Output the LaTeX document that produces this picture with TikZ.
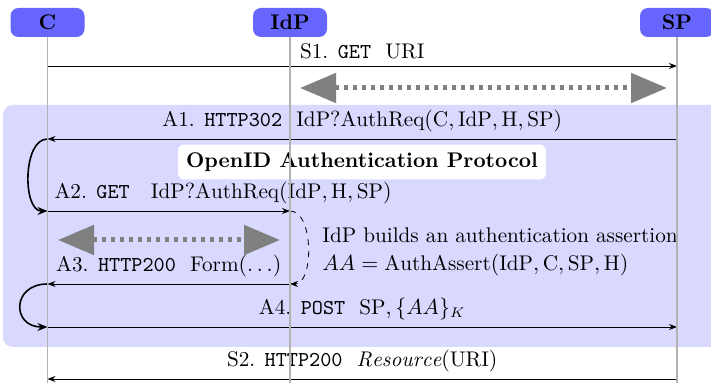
\documentclass[tikz,border=0pt]{standalone}
\usepackage{fontspec}
\usetikzlibrary{arrows.meta}
\newcommand\myfs{\fontsize{10.6pt}{12.8pt}\selectfont}
\begin{document}
\begin{tikzpicture}[x=0.5pt,y=-0.5pt,
  every node/.style={font=\myfs},
  actor/.style={fill=blue!60, rounded corners=4pt, minimum width=37pt, minimum height=14.5pt, inner sep=0pt, font=\myfs\bfseries},
  msg/.style={-{Stealth[length=4pt,width=3pt]}, line width=0.4pt},
  looparrow/.style={-{Stealth[length=5pt,width=4pt]}, line width=0.8pt},
  bigarrow/.style={{Triangle[length=18pt,width=14.5pt]}-{Triangle[length=18pt,width=14.5pt]}, gray, line width=2.5pt, dash pattern=on 2.2pt off 2.3pt},
  lifeline/.style={gray!60, line width=0.6pt},
  titlebox/.style={fill=white, rounded corners=3pt, inner sep=4pt, font=\myfs\bfseries}
]
\clip (0,0) rectangle (711,383);
% background of the authentication protocol
\fill[blue!15, rounded corners=5pt] (3,105) rectangle (730,347);

% coordinates on lifelines
\coordinate (s1a) at (47.5,66);  \coordinate (s1b) at (677,66);
\coordinate (g1a) at (300,88);   \coordinate (g1b) at (667,88);
\coordinate (a1a) at (677,139);  \coordinate (a1b) at (47.5,139);
\coordinate (a2a) at (47.5,211); \coordinate (a2b) at (290,211);
\coordinate (g2a) at (58,240);   \coordinate (g2b) at (280,240);
\coordinate (a3a) at (290,284);  \coordinate (a3b) at (47.5,284);
\coordinate (a4a) at (47.5,327); \coordinate (a4b) at (677,327);
\coordinate (s2a) at (677,379);  \coordinate (s2b) at (47.5,379);
\coordinate (Cend) at (47.5,390);
\coordinate (Iend) at (290,390);
\coordinate (Send) at (677,390);

% big gray arrows
\draw[bigarrow] (g1a) -- (g1b);
\draw[bigarrow] (g2a) -- (g2b);

% title box
\node[titlebox] (oid) at (362,162) {OpenID Authentication Protocol};

% messages
\draw[msg] (s1a) -- node[above] (l1) {S1. \texttt{GET}\ \ URI} (s1b);
\draw[msg] (a1a) -- node[above] (l2) {A1. \texttt{HTTP302}\ \ $\mathrm{IdP?AuthReq}(\mathrm{C},\mathrm{IdP},\mathrm{H},\mathrm{SP})$} (a1b);
\draw[looparrow] (a1b) .. controls +(-25,0) and +(-25,0) .. (a2a);
\draw[msg] (a2a) -- node[pos=0, above right] (l3) {A2. \texttt{GET}\quad $\mathrm{IdP?AuthReq}(\mathrm{IdP},\mathrm{H},\mathrm{SP})$} (a2b);
\draw[msg, dashed] (a2b) .. controls +(24,0) and +(24,0) .. (a3a);
\node[anchor=west, align=left, inner sep=0pt] (note) at (322,252)
  {IdP builds an authentication assertion\\[1.5pt]
   $AA=\mathrm{AuthAssert}(\mathrm{IdP},\mathrm{C},\mathrm{SP},\mathrm{H})$};
\draw[msg] (a3a) -- node[above] (l4) {A3. \texttt{HTTP200}\ \ Form$(\ldots)$} (a3b);
\draw[looparrow] (a3b) .. controls +(-36,0) and +(-36,0) .. (a4a);
\draw[msg] (a4a) -- node[above] (l5) {A4. \texttt{POST}\ \ $\mathrm{SP},\{AA\}_K$} (a4b);
\draw[msg] (s2a) -- node[above] (l6) {S2. \texttt{HTTP200}\ \ $\mathit{Resource}(\mathrm{URI})$} (s2b);

% actors and lifelines
\node[actor] (C) at (47.5,22.5) {C};
\node[actor] (I) at (290,22.5) {IdP};
\node[actor] (S) at (677,22.5) {SP};
\draw[lifeline] (C.south) -- (Cend);
\draw[lifeline] (I.south) -- (Iend);
\draw[lifeline] (S.south) -- (Send);
\end{tikzpicture}
\end{document}
